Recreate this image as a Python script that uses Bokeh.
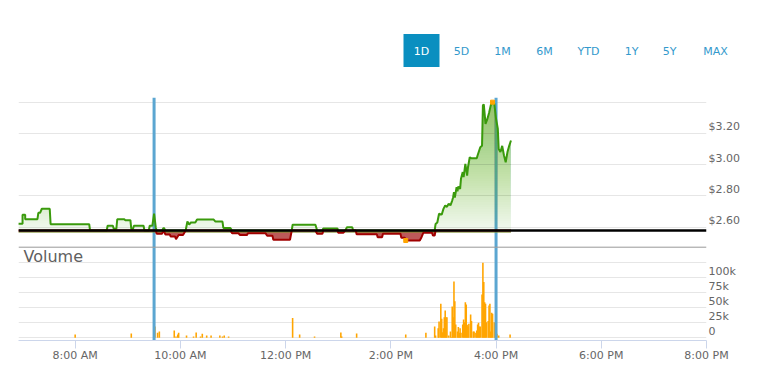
import numpy as np
from bokeh.plotting import figure
from bokeh.layouts import column
from bokeh.models import Range1d, FixedTicker, CustomJSTickFormatter, Span, Grid
from bokeh.core.properties import value
from bokeh.embed import file_html
from bokeh.resources import INLINE

# ---------------- data ----------------
price_times = [
    "6:55", "7:00", "7:00", "7:03", "7:03", "7:17", "7:18", "7:20", "7:22", "7:31",
    "7:32", "8:16", "8:17", "8:36", "8:37", "8:43", "8:44", "8:47", "8:48", "8:56",
    "8:57", "9:03", "9:04", "9:06", "9:07", "9:18", "9:19", "9:24", "9:25", "9:28",
    "9:30", "9:32", "9:33", "9:39", "9:41", "9:43", "9:48", "9:49", "9:54", "9:55",
    "9:58", "10:03", "10:06", "10:08", "10:10", "10:12", "10:17", "10:19", "10:38", "10:40",
    "10:48", "10:49", "10:57", "10:59", "11:06", "11:08", "11:16", "11:17", "11:37", "11:39",
    "11:45", "11:46", "12:05", "12:07", "12:08", "12:34", "12:36", "12:42", "12:43", "12:59",
    "13:00", "13:06", "13:08", "13:10", "13:16", "13:17", "13:20", "13:21", "13:44", "13:45",
    "13:50", "13:51", "14:11", "14:12", "14:16", "14:17", "14:33", "14:35", "14:37", "14:47",
    "14:48", "14:50", "14:51", "14:53", "14:55", "14:58", "15:00", "15:02", "15:04", "15:06",
    "15:08", "15:10", "15:11", "15:12", "15:13", "15:15", "15:16", "15:17", "15:19", "15:20",
    "15:22", "15:23", "15:25", "15:27", "15:28", "15:30", "15:32", "15:38", "15:39", "15:42",
    "15:44", "15:45", "15:46", "15:48", "15:50", "15:52", "15:54", "15:56", "15:58", "16:00",
    "16:02", "16:03", "16:05", "16:07", "16:09", "16:11", "16:13", "16:15", "16:17",
]
price_values = [
    2.622, 2.622, 2.679, 2.679, 2.651, 2.651, 2.692, 2.692, 2.718, 2.718,
    2.619, 2.619, 2.579, 2.579, 2.609, 2.609, 2.590, 2.590, 2.651, 2.651,
    2.645, 2.645, 2.590, 2.590, 2.609, 2.609, 2.579, 2.579, 2.609, 2.609,
    2.686, 2.595, 2.558, 2.558, 2.597, 2.553, 2.553, 2.540, 2.540, 2.523,
    2.550, 2.550, 2.579, 2.636, 2.617, 2.630, 2.630, 2.649, 2.649, 2.636,
    2.636, 2.595, 2.595, 2.562, 2.562, 2.550, 2.550, 2.562, 2.562, 2.545,
    2.545, 2.520, 2.520, 2.579, 2.616, 2.616, 2.558, 2.558, 2.592, 2.592,
    2.565, 2.565, 2.579, 2.600, 2.600, 2.579, 2.579, 2.555, 2.555, 2.536,
    2.536, 2.558, 2.558, 2.532, 2.532, 2.515, 2.515, 2.536, 2.564, 2.564,
    2.547, 2.547, 2.620, 2.630, 2.686, 2.680, 2.717, 2.739, 2.730, 2.750,
    2.740, 2.770, 2.790, 2.824, 2.790, 2.856, 2.830, 2.860, 2.845, 2.909,
    2.952, 2.920, 3.005, 2.930, 2.983, 3.047, 3.040, 3.040, 3.060, 3.111,
    3.120, 3.378, 3.385, 3.260, 3.290, 3.330, 3.380, 3.399, 3.390, 3.293,
    3.230, 3.100, 3.080, 3.120, 3.060, 3.015, 3.080, 3.120, 3.154,
]
prev_close = 2.579

volume_times = [
    "8:00", "9:04", "9:30", "9:31", "9:34", "9:36", "9:53", "9:55", "9:57", "9:58",
    "10:07", "10:15", "10:18", "10:23", "10:25", "10:30", "10:35", "10:45", "10:48", "10:50",
    "10:55", "12:08", "12:16", "12:33", "13:03", "13:04", "13:21", "14:17", "14:40", "14:50",
    "14:51", "14:54", "14:55", "14:57", "14:58", "14:59", "15:00", "15:01", "15:02", "15:03",
    "15:04", "15:06", "15:08", "15:09", "15:10", "15:11", "15:12", "15:13", "15:14", "15:16",
    "15:17", "15:18", "15:19", "15:20", "15:22", "15:23", "15:24", "15:25", "15:26", "15:27",
    "15:28", "15:29", "15:31", "15:32", "15:34", "15:35", "15:37", "15:38", "15:39", "15:40",
    "15:41", "15:42", "15:44", "15:45", "15:46", "15:47", "15:48", "15:49", "15:51", "15:52",
    "15:53", "15:54", "15:55", "15:56", "15:58", "15:59", "16:00", "16:01", "16:03", "16:16",
]
volume_k = [
    5.5, 7.2, 26.1, 18.9, 8.3, 10.6, 12.2, 2.2, 5.6, 8.3,
    3.9, 2.2, 8.9, 2.2, 6.7, 3.9, 3.9, 3.9, 2.2, 3.9,
    2.2, 32.8, 5.6, 2.2, 8.9, 2.2, 7.2, 5.6, 8.3, 18.9,
    3.9, 16.1, 27.2, 56.7, 31.7, 9.4, 16.1, 34.4, 45.6, 34.4,
    34.4, 3.9, 10.6, 1.1, 52.2, 34.4, 93.9, 61.1, 22.2, 10.6,
    17.8, 8.3, 16.1, 8.3, 22.2, 30.6, 26.1, 59.4, 55.6, 21.7,
    18.9, 23.3, 38.9, 27.8, 10.6, 10.6, 8.3, 12.2, 22.2, 25.0,
    18.9, 18.9, 72.2, 125.0, 92.8, 59.4, 56.7, 26.1, 27.8, 53.9,
    56.7, 10.6, 41.7, 40.0, 26.1, 21.7, 28.9, 6.7, 3.9, 5.6,
]

market_open = "9:30"
market_close = "16:00"

x_tick_hours = [8, 10, 12, 14, 16, 18, 20]
x_tick_labels = ["8:00 AM", "10:00 AM", "12:00 PM", "2:00 PM", "4:00 PM", "6:00 PM", "8:00 PM"]
price_ticks = [2.6, 2.8, 3.0, 3.2]
price_tick_labels = ["$2.60", "$2.80", "$3.00", "$3.20"]
price_grid = [2.6, 2.8, 3.0, 3.2, 3.4]
volume_ticks = [0, 25000, 50000, 75000, 100000]
volume_tick_labels = ["0", "25k", "50k", "75k", "100k"]
volume_grid = [0, 25000, 50000, 75000, 100000, 125000]
range_buttons = ["1D", "5D", "1M", "6M", "YTD", "1Y", "5Y", "MAX"]
selected_button = "1D"


def hours(s):
    h, m = s.split(":")
    return int(h) + int(m) / 60.0


t_price = np.array([hours(s) for s in price_times])
v_price = np.array(price_values)
t_vol = np.array([hours(s) for s in volume_times])
v_vol = np.array(volume_k) * 1000.0

# ---------------- layout / style ----------------
W = 751
TOP_H = 97                      # height of the range-selector strip
H = 278                         # height of the chart below it
FRAME_LEFT, FRAME_RIGHT = 18, 706
FRAME_BOTTOM = 340              # page coordinates
FRAME_H = FRAME_BOTTOM - TOP_H
FRAME_W = FRAME_RIGHT - FRAME_LEFT
X_START, X_END = 6.923, 20.0
px_price = 0.2 / 31.3          # price units per pixel
px_vol = 25000 / 15.0          # volume units per pixel
P_LO = 2.60 - (FRAME_BOTTOM - 226.7) * px_price
P_HI = P_LO + FRAME_H * px_price
V_LO = -(FRAME_BOTTOM - 337.3) * px_vol
V_HI = V_LO + FRAME_H * px_vol


def page_x(px):
    return X_START + (px - FRAME_LEFT) * (X_END - X_START) / FRAME_W


def page_y(py):
    return P_LO + (FRAME_BOTTOM - py) * px_price


PANE_SPLIT = page_y(246.7)

FONT = "DejaVu Sans"
GREEN = "#3a9a0c"
RED_LINE = "#a00000"
RED_FILL = "#a52222"
BLUE = "#5ba6d1"
ORANGE = "#ffa500"
GRID = "#e6e6e6"
LABEL = "#666666"

# ---------------- range selector strip ----------------
top = figure(width=W, height=TOP_H, x_range=Range1d(0, W), y_range=Range1d(TOP_H, 0),
             output_backend="svg", toolbar_location=None,
             x_axis_location=None, y_axis_location=None, frame_align=False,
             min_border_left=0, min_border_right=0, min_border_top=0, min_border_bottom=0)
top.outline_line_color = None
top.xgrid.visible = False
top.ygrid.visible = False
top.background_fill_color = "white"
top.border_fill_color = "white"

button_page_x = [421, 461, 502, 544, 588, 631, 669, 715]
sel_i = range_buttons.index(selected_button)
top.rect(x=[button_page_x[sel_i]], y=[50], width=36, height=33,
         width_units="screen", height_units="screen", fill_color="#0a8fc0", line_color=None)
top.text(x=button_page_x, y=[50.5] * len(range_buttons), text=range_buttons,
         text_font=value(FONT), text_font_size="11px",
         text_color=["white" if b == selected_button else "#3399cc" for b in range_buttons],
         text_align="center", text_baseline="middle")

# ---------------- main chart ----------------
p = figure(width=W, height=H, x_range=Range1d(X_START, X_END), y_range=Range1d(P_LO, P_HI),
           output_backend="svg", toolbar_location=None, y_axis_location="right",
           frame_align=False,
           min_border_left=FRAME_LEFT, min_border_right=W - FRAME_RIGHT,
           min_border_top=0, min_border_bottom=H - FRAME_H)
p.extra_y_ranges = {"vol": Range1d(V_LO, V_HI)}
p.outline_line_color = None
p.background_fill_color = "white"
p.border_fill_color = "white"
p.xgrid.visible = False
p.ygrid.visible = False

p.add_layout(Grid(dimension=1, ticker=FixedTicker(ticks=price_grid), grid_line_color=GRID))
p.add_layout(Grid(dimension=1, ticker=FixedTicker(ticks=volume_grid), y_range_name="vol",
                  grid_line_color=GRID))

session = [hours(market_open), hours(market_close)]
p.segment(x0=session, x1=session, y0=[PANE_SPLIT] * 2, y1=[P_HI] * 2,
          line_color=BLUE, line_width=3, line_cap="butt")

# green gradient fill above previous close (cumulative thin layers)
step = 0.015
lo = prev_close
first = True
while lo < v_price.max():
    p.varea(x=t_price, y1=np.minimum(v_price, lo), y2=v_price,
            fill_color=GREEN, fill_alpha=0.07 if first else 0.012)
    first = False
    lo += step

# red fill below previous close
p.varea(x=t_price, y1=np.minimum(v_price, prev_close), y2=prev_close,
        fill_color=RED_FILL, fill_alpha=0.75)

p.line([t_price[0], t_price[-1]], [prev_close - 1.6 * px_price] * 2,
       line_color="#7a8a2a", line_width=1)
p.line(t_price, np.maximum(v_price, prev_close), line_color=GREEN, line_width=2)
p.line(t_price, np.minimum(v_price, prev_close), line_color=RED_LINE, line_width=2)

p.add_layout(Span(location=prev_close, dimension="width", line_color="black", line_width=2.5))

i_hi, i_lo = int(np.argmax(v_price)), int(np.argmin(v_price))
p.scatter([t_price[i_hi], t_price[i_lo]], [v_price[i_hi], v_price[i_lo]],
          marker="square", size=4, color=ORANGE)

# volume
p.vbar(x=t_vol, top=v_vol, bottom=0, width=1.8 / 60, y_range_name="vol",
       fill_color=ORANGE, line_color=None)
p.segment(x0=session, x1=session, y0=[P_LO] * 2, y1=[PANE_SPLIT] * 2,
          line_color=BLUE, line_width=3, line_cap="butt")
p.add_layout(Span(location=PANE_SPLIT, dimension="width", line_color="#999999", line_width=1))

p.text(x=[page_x(23)], y=[page_y(255.5)], text=["Volume"], text_font=value(FONT),
       text_font_size="16px", text_color="#606060", text_baseline="alphabetic")

JS = """
let best = 0;
for (let i = 1; i < pos.length; i++) {
  if (Math.abs(pos[i] - tick) < Math.abs(pos[best] - tick)) best = i;
}
return txt[best];
"""

xa = p.xaxis[0]
xa.ticker = FixedTicker(ticks=x_tick_hours)
xa.formatter = CustomJSTickFormatter(args=dict(pos=x_tick_hours, txt=x_tick_labels), code=JS)
xa.axis_line_color = "#ccd6eb"
xa.major_tick_line_color = "#ccd6eb"
xa.major_tick_in = 0
xa.major_tick_out = 8
xa.minor_tick_line_color = None
xa.major_label_standoff = 0
xa.major_label_text_font = FONT
xa.major_label_text_font_size = "11px"
xa.major_label_text_color = LABEL

offset = 6.6 * px_price
ypos = [v + offset for v in price_ticks] + \
       [P_LO + (v - V_LO) / (V_HI - V_LO) * (P_HI - P_LO) + offset for v in volume_ticks]
ya = p.yaxis[0]
ya.ticker = FixedTicker(ticks=ypos)
ya.formatter = CustomJSTickFormatter(args=dict(pos=ypos, txt=price_tick_labels + volume_tick_labels),
                                     code=JS)
ya.axis_line_color = None
ya.major_tick_line_color = None
ya.minor_tick_line_color = None
ya.major_tick_in = 0
ya.major_tick_out = 0
ya.major_label_standoff = 2
ya.major_label_text_font = FONT
ya.major_label_text_font_size = "11px"
ya.major_label_text_color = LABEL

layout = column(top, p, spacing=0)
open("out.html", "w").write(file_html(layout, INLINE))
